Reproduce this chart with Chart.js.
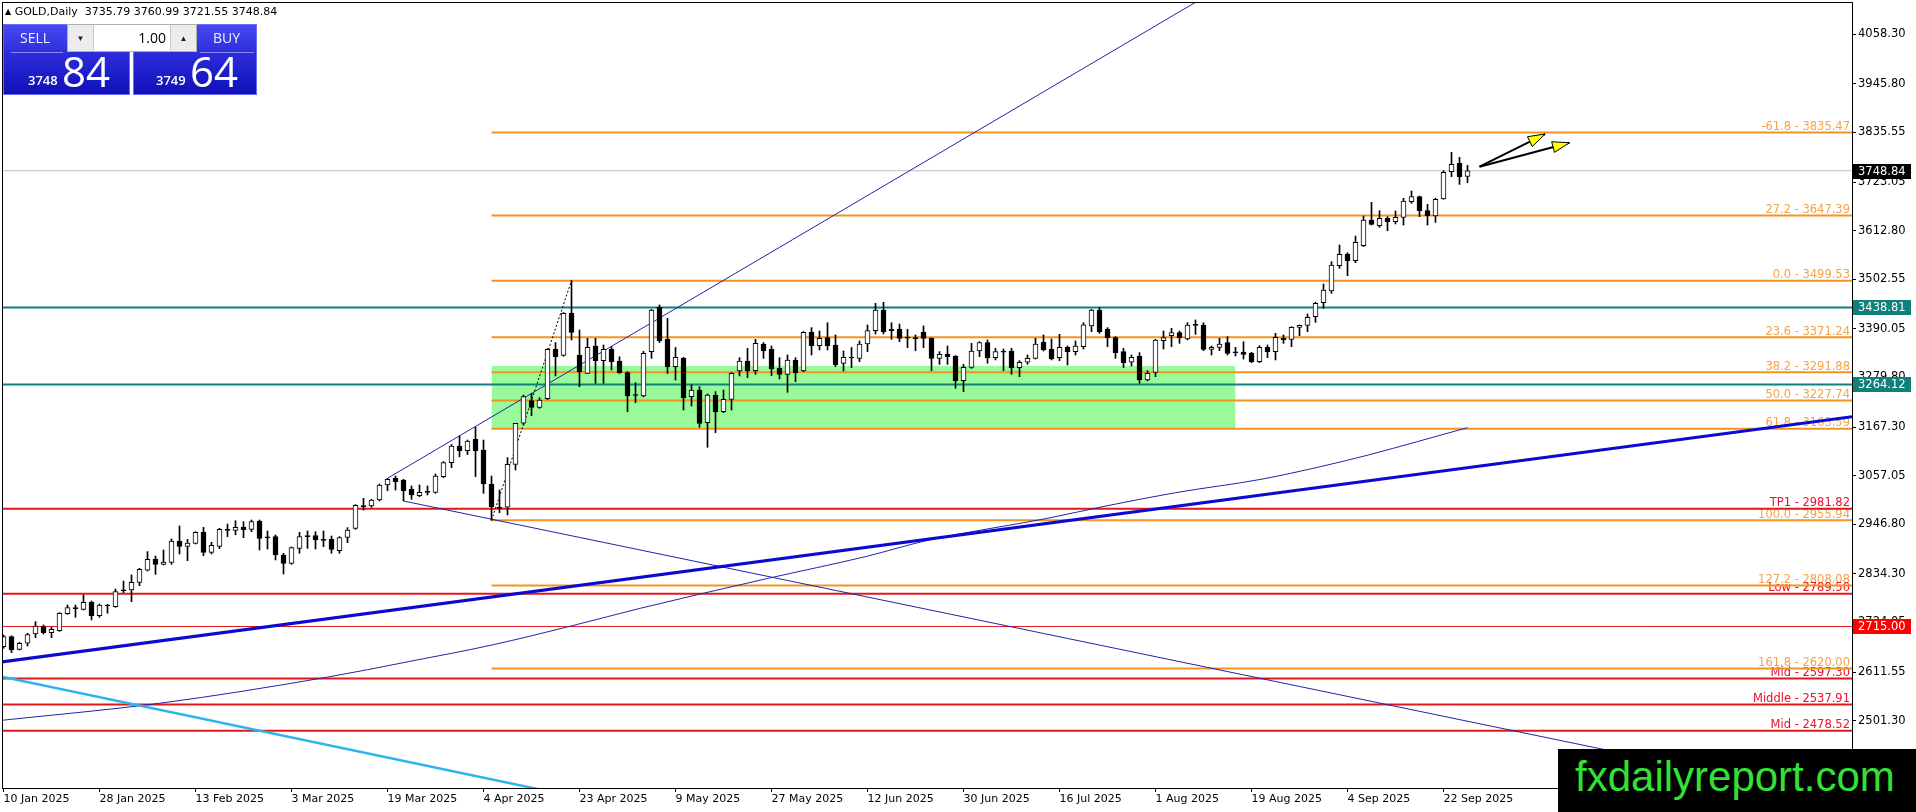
<!DOCTYPE html>
<html>
<head>
<meta charset="utf-8">
<title>GOLD,Daily</title>
<script src="https://cdn.jsdelivr.net/npm/chart.js@4.4.1/dist/chart.umd.min.js"></script>
<style>
  body { margin: 0; background: #fff; overflow: hidden; }
  #wrap { position: relative; width: 1916px; height: 812px; }
  #chart { position: absolute; left: 0; top: 0; }
  #title { position: absolute; left: 5px; top: 5px; font: 11px "DejaVu Sans", sans-serif; color: #000; white-space: pre; }
  #title .tri { font-size: 8px; vertical-align: 1px; }
  .blk { position: absolute; top: 24px; height: 71px; background: linear-gradient(to bottom, #4848f2 0%, #2a2ad8 45%, #1010b8 100%); border: 1px solid #6a6aff; box-sizing: border-box; color: #fff; font-family: "Open Sans", sans-serif; }
  .blk .lbl { position: absolute; top: 4px; font-size: 14px; line-height: 18px; color: #f0f0ff; }
  .blk .ul { position: absolute; top: 27px; height: 1px; background: #8a8aff; }
  .blk .sm { position: absolute; top: 47px; font-size: 13px; font-weight: 600; line-height: 16px; }
  .blk .lg { position: absolute; top: 24px; font-size: 42px; line-height: 44px; }
  #lot { position: absolute; left: 67px; top: 24px; width: 130px; height: 28px; background: #fff; border: 1px solid #b0b0b0; box-sizing: border-box; font-family: "Open Sans", sans-serif; }
  #lot .btn { position: absolute; top: 0; width: 25px; height: 26px; background: #ececec; color: #222; font-size: 8px; line-height: 26px; text-align: center; }
  #lot .val { position: absolute; left: 26px; width: 72px; top: 0; height: 26px; line-height: 26px; font-size: 14px; text-align: right; color: #000; }
  #brand { position: absolute; left: 1558px; top: 749px; width: 358px; height: 63px; background: #000; }
  #brand span { position: absolute; left: 17px; top: 4px; font: 42px "Liberation Sans", Arial, sans-serif; line-height: 48px; color: #35e035; white-space: nowrap; }
</style>
</head>
<body>
<div id="wrap">
  <canvas id="chart" width="1916" height="812"></canvas>
  <div id="title"><span class="tri">▲</span> GOLD,Daily  3735.79 3760.99 3721.55 3748.84</div>
  <div class="blk" style="left:3px; width:127px;">
    <div class="lbl" style="left:16px;">SELL</div>
    <div class="ul" style="left:7px; width:52px;"></div>
    <div class="sm" style="left:24px;">3748</div>
    <div class="lg" style="left:58px;">84</div>
  </div>
  <div class="blk" style="left:133px; width:124px;">
    <div class="lbl" style="left:79px;">BUY</div>
    <div class="ul" style="left:66px; width:54px;"></div>
    <div class="sm" style="left:22px;">3749</div>
    <div class="lg" style="left:56px;">64</div>
  </div>
  <div id="lot">
    <div class="btn" style="left:0; border-right:1px solid #c8c8c8;">▼</div>
    <div class="val">1.00</div>
    <div class="btn" style="right:0; border-left:1px solid #c8c8c8;">▲</div>
  </div>
  <div id="brand"><span>fxdailyreport.com</span></div>
</div>
<script>
// daily GOLD candles, bar 0 = 10 Jan 2025 ... bar 183 = 25 Sep 2025
const opens = [
  2669.3, 2692.0, 2663.0, 2677.0, 2698.0, 2714.6, 2701.0, 2705.6, 2744.0, 2757.7,
  2754.0, 2769.8, 2739.6, 2763.8, 2760.0, 2796.0, 2798.0, 2815.0, 2843.0, 2867.4,
  2856.0, 2860.6, 2909.0, 2896.9, 2903.7, 2928.6, 2883.2, 2896.9, 2935.4, 2933.0,
  2940.7, 2935.4, 2954.3, 2917.0, 2918.8, 2877.2, 2858.3, 2892.3, 2918.8, 2921.0,
  2911.2, 2912.7, 2887.0, 2917.3, 2937.7, 2988.0, 2988.4, 3002.0, 3036.0, 3051.1,
  3047.3, 3026.2, 3011.8, 3019.4, 3019.4, 3054.9, 3086.7, 3124.5, 3113.9, 3139.6,
  3115.4, 3037.5, 2985.0, 2985.4, 3082.9, 3176.0, 3227.3, 3212.2, 3231.8, 3343.7,
  3330.1, 3425.4, 3330.9, 3289.3, 3351.3, 3318.0, 3344.5, 3317.3, 3290.8, 3240.0,
  3237.9, 3338.5, 3439.0, 3366.4, 3304.4, 3323.3, 3236.4, 3251.5, 3177.4, 3240.2,
  3202.4, 3230.3, 3294.6, 3317.3, 3295.4, 3355.8, 3343.7, 3300.6, 3287.0, 3319.6,
  3294.6, 3382.3, 3352.0, 3370.2, 3353.6, 3312.0, 3325.0, 3323.3, 3355.8, 3386.1,
  3433.0, 3389.0, 3389.1, 3370.0, 3368.0, 3382.3, 3368.7, 3323.3, 3332.4, 3328.6,
  3272.7, 3302.9, 3340.0, 3358.9, 3324.8, 3338.0, 3339.9, 3302.2, 3314.3, 3323.3,
  3359.6, 3343.7, 3324.8, 3348.3, 3338.5, 3349.8, 3396.7, 3433.0, 3389.1, 3370.2,
  3338.5, 3314.3, 3328.6, 3274.2, 3291.6, 3363.4, 3374.7, 3381.5, 3367.2, 3399.0,
  3398.9, 3343.7, 3348.3, 3358.9, 3337.0, 3337.6, 3334.6, 3315.7, 3348.2, 3338.4,
  3368.6, 3366.4, 3393.6, 3398.1, 3417.8, 3449.5, 3476.0, 3533.5, 3559.2, 3544.8,
  3578.8, 3637.0, 3624.2, 3640.8, 3633.3, 3643.1, 3678.6, 3690.0, 3658.2, 3646.1,
  3684.7, 3746.7, 3765.6, 3735.79
];
const highs = [
  2695.7, 2694.0, 2679.0, 2699.5, 2726.0, 2718.4, 2713.0, 2746.4, 2763.8, 2763.8,
  2786.5, 2772.8, 2766.0, 2765.3, 2800.0, 2818.0, 2832.0, 2847.0, 2884.8, 2875.0,
  2888.5, 2913.5, 2943.0, 2912.7, 2930.1, 2940.0, 2906.0, 2937.7, 2947.5, 2955.0,
  2952.8, 2956.6, 2956.6, 2931.7, 2922.6, 2881.0, 2895.4, 2928.6, 2931.7, 2930.0,
  2931.7, 2920.3, 2918.8, 2939.2, 2991.4, 3005.7, 3003.5, 3038.3, 3051.1, 3056.4,
  3048.8, 3033.7, 3036.0, 3033.7, 3061.0, 3089.0, 3128.0, 3147.0, 3138.0, 3167.0,
  3138.0, 3056.4, 3024.7, 3098.0, 3176.0, 3240.0, 3244.0, 3234.0, 3345.0, 3358.9,
  3427.0, 3499.5, 3387.6, 3368.7, 3368.7, 3353.6, 3349.8, 3327.0, 3293.0, 3268.0,
  3339.0, 3434.5, 3444.3, 3414.0, 3348.0, 3325.6, 3262.9, 3259.0, 3242.4, 3247.7,
  3251.5, 3291.0, 3324.8, 3346.0, 3366.4, 3358.9, 3351.3, 3324.8, 3330.9, 3324.8,
  3384.0, 3392.9, 3385.3, 3404.2, 3376.3, 3340.0, 3348.0, 3362.6, 3398.9, 3448.1,
  3450.4, 3404.2, 3401.2, 3389.0, 3376.3, 3396.7, 3369.5, 3338.5, 3351.3, 3329.5,
  3309.7, 3357.4, 3361.0, 3365.0, 3346.0, 3344.5, 3346.0, 3318.0, 3330.9, 3368.7,
  3376.3, 3367.2, 3377.8, 3351.3, 3362.6, 3404.2, 3434.5, 3438.3, 3392.9, 3372.5,
  3346.0, 3330.9, 3336.2, 3295.4, 3366.4, 3385.3, 3391.4, 3385.3, 3404.2, 3410.3,
  3404.2, 3351.3, 3368.7, 3372.4, 3348.2, 3361.0, 3336.9, 3352.0, 3353.5, 3380.0,
  3376.2, 3395.1, 3398.9, 3423.8, 3450.3, 3491.9, 3542.5, 3580.3, 3562.9, 3600.7,
  3646.1, 3677.1, 3658.2, 3644.6, 3657.5, 3686.2, 3702.8, 3691.5, 3672.6, 3686.2,
  3749.0, 3790.5, 3779.2, 3760.99
];
const lows = [
  2665.5, 2655.7, 2661.7, 2670.8, 2689.7, 2698.0, 2689.7, 2704.0, 2742.6, 2735.8,
  2752.4, 2729.8, 2735.8, 2744.9, 2758.5, 2791.8, 2771.4, 2807.6, 2840.9, 2833.3,
  2854.5, 2856.0, 2879.5, 2864.3, 2902.1, 2875.7, 2879.5, 2891.6, 2918.8, 2923.0,
  2916.5, 2930.0, 2888.6, 2890.8, 2865.9, 2834.1, 2856.0, 2881.0, 2892.3, 2890.8,
  2896.1, 2881.0, 2881.0, 2905.2, 2935.4, 2979.0, 2985.3, 2999.7, 3023.0, 3024.6,
  3000.0, 3003.5, 3009.5, 3013.3, 3017.1, 3052.6, 3075.3, 3100.0, 3105.0, 3054.9,
  3017.0, 2955.9, 2973.3, 2968.0, 3070.0, 3172.0, 3193.0, 3210.0, 3230.0, 3283.3,
  3328.0, 3364.9, 3259.0, 3289.0, 3266.6, 3266.6, 3296.9, 3289.0, 3202.4, 3222.8,
  3236.0, 3323.3, 3358.9, 3289.0, 3274.0, 3206.2, 3215.2, 3166.8, 3121.5, 3154.7,
  3200.0, 3206.0, 3283.3, 3279.5, 3287.0, 3323.3, 3284.0, 3276.5, 3246.2, 3270.4,
  3293.0, 3330.9, 3342.2, 3342.2, 3304.4, 3294.6, 3302.0, 3315.8, 3338.5, 3378.5,
  3378.5, 3366.4, 3361.1, 3347.5, 3340.7, 3347.5, 3295.4, 3309.7, 3309.7, 3255.3,
  3247.7, 3300.6, 3327.0, 3312.0, 3319.6, 3295.4, 3287.0, 3281.7, 3309.7, 3321.8,
  3340.0, 3319.6, 3318.0, 3308.2, 3330.9, 3344.5, 3383.8, 3380.0, 3349.8, 3323.3,
  3302.2, 3305.9, 3266.6, 3271.9, 3281.7, 3344.5, 3349.8, 3357.4, 3365.0, 3377.8,
  3340.7, 3330.9, 3340.7, 3330.8, 3328.5, 3321.7, 3313.4, 3313.4, 3324.8, 3319.5,
  3357.3, 3349.7, 3374.7, 3383.8, 3404.9, 3436.7, 3470.7, 3527.4, 3510.8, 3540.3,
  3576.6, 3625.7, 3620.4, 3612.8, 3628.0, 3625.7, 3674.8, 3644.6, 3625.7, 3631.7,
  3684.0, 3735.3, 3717.9, 3721.55
];
const closes = [
  2692.0, 2661.7, 2677.0, 2696.5, 2716.1, 2701.0, 2708.6, 2744.9, 2757.7, 2755.5,
  2769.8, 2739.6, 2763.8, 2761.5, 2794.0, 2798.0, 2815.0, 2844.7, 2867.4, 2856.0,
  2861.3, 2909.0, 2896.9, 2904.4, 2928.6, 2883.2, 2899.1, 2935.4, 2933.1, 2940.0,
  2934.7, 2952.8, 2915.0, 2916.0, 2877.2, 2858.3, 2893.8, 2918.8, 2921.0, 2911.2,
  2910.5, 2890.0, 2916.5, 2933.9, 2989.9, 2987.0, 3002.0, 3036.0, 3048.8, 3043.6,
  3023.0, 3013.3, 3019.4, 3021.0, 3056.4, 3086.7, 3124.5, 3113.9, 3135.8, 3113.9,
  3038.3, 2986.9, 2983.0, 3082.9, 3175.9, 3236.4, 3212.2, 3228.8, 3343.7, 3327.1,
  3425.4, 3382.3, 3293.1, 3348.3, 3318.0, 3343.7, 3315.8, 3290.8, 3237.9, 3239.0,
  3334.7, 3433.0, 3363.4, 3304.4, 3325.6, 3234.0, 3251.5, 3175.9, 3240.2, 3202.4,
  3230.3, 3289.3, 3317.3, 3294.6, 3357.4, 3340.7, 3299.1, 3287.0, 3319.6, 3290.8,
  3382.3, 3352.0, 3368.7, 3352.0, 3308.2, 3325.6, 3324.0, 3355.8, 3386.1, 3433.0,
  3383.8, 3386.0, 3368.7, 3369.0, 3369.5, 3368.7, 3323.3, 3332.4, 3327.1, 3272.7,
  3302.9, 3340.0, 3358.9, 3324.8, 3338.5, 3337.0, 3302.2, 3314.3, 3323.3, 3355.8,
  3342.2, 3321.8, 3348.3, 3338.5, 3351.3, 3399.0, 3433.0, 3383.8, 3370.2, 3336.2,
  3313.5, 3325.6, 3274.2, 3289.3, 3364.9, 3370.2, 3381.5, 3370.2, 3398.9, 3398.0,
  3343.7, 3348.3, 3355.8, 3334.7, 3336.0, 3332.3, 3315.7, 3348.2, 3338.4, 3370.9,
  3364.9, 3393.6, 3398.1, 3416.3, 3448.0, 3478.3, 3535.0, 3559.2, 3544.8, 3586.4,
  3637.0, 3627.2, 3640.8, 3633.3, 3643.1, 3680.1, 3690.0, 3658.2, 3646.1, 3683.9,
  3745.2, 3763.3, 3735.3, 3748.84
];

// axis ticks
const dateTicks = [0, 12, 24, 36, 48, 60, 72, 84, 96, 108, 120, 132, 144, 156, 168, 180];
const dateLabels = ['10 Jan 2025', '28 Jan 2025', '13 Feb 2025', '3 Mar 2025', '19 Mar 2025', '4 Apr 2025',
  '23 Apr 2025', '9 May 2025', '27 May 2025', '12 Jun 2025', '30 Jun 2025', '16 Jul 2025',
  '1 Aug 2025', '19 Aug 2025', '4 Sep 2025', '22 Sep 2025'];
const priceTicks = [4058.30, 3945.80, 3835.55, 3723.05, 3612.80, 3502.55, 3390.05, 3279.80,
  3167.30, 3057.05, 2946.80, 2834.30, 2724.05, 2611.55, 2501.30];

// levels drawn on the chart
const fibLevels = [3835.47, 3647.39, 3499.53, 3371.24, 3291.88, 3227.74, 3163.59, 2955.94, 2808.08, 2620.00];
const fibNames = ['-61.8', '27.2', '0.0', '23.6', '38.2', '50.0', '61.8', '100.0', '127.2', '161.8'];
const fibStart = 61;
const redLevels = [2981.82, 2789.50, 2597.30, 2537.91, 2478.52];
const redNames = ['TP1', 'Low', 'Mid', 'Middle', 'Mid'];
const tealLevels = [3438.81, 3264.12];
const markLevel = 2715.00;
const bidPrice = 3748.84;
const zoneX = [61, 154];
const zoneY = [3163.59, 3306.0];

// trend lines (bar index, price)
const thickLineX = [-0.2, 231.2];
const thickLineY = [2634.7, 3191.2];
const upLineX = [48, 160];
const upLineY = [3051.2, 4248.5];
const downLineX = [50, 232];
const downLineY = [2999.7, 2316.0];
const cyanLineX = [-0.2, 80];
const cyanLineY = [2601.2, 2296.0];
const fibDiagX = [61, 71];
const fibDiagY = [2955.94, 3499.53];
const maX = [-0.2, 19.5, 40.4, 50.6, 60.9, 71.1, 79.6, 95.6, 107.7, 115.7, 130.5, 137.8, 146.5, 157.2, 164.6, 170.6, 176.7, 183];
const maY = [2502.2, 2540.8, 2599.8, 2635.2, 2672.4, 2716.8, 2756.3, 2824.3, 2873.3, 2911.2, 2960.4, 2988.3, 3018.5, 3048.9, 3077.5, 3104.0, 3134.2, 3166.0];
const arrowTail = [184.5, 3758.0];
const arrowTips = [[192.7, 3832.1], [195.75, 3812.4]];

const X_MIN = -0.1875, X_MAX = 231.0625;
const Y_MIN = 2348.65, Y_MAX = 4131.57;

const FIB = '#f39320', FIB_TEXT = '#f2a447';
const RED = '#e01a1a', RED_TEXT = '#e8102e';
const TEAL = '#10807b';

function seg(xs, ys, color, width, order, extra) {
  return Object.assign({
    type: 'line',
    data: xs.map((x, i) => ({ x: x, y: ys[i] })),
    borderColor: color,
    borderWidth: width,
    pointRadius: 0,
    fill: false,
    clip: 0,
    order: order
  }, extra || {});
}

const datasets = [];

// green zone
datasets.push(seg(zoneX, [zoneY[1], zoneY[1]], 'rgba(0,0,0,0)', 0, 100,
  { fill: { value: zoneY[0] }, backgroundColor: '#98fa98' }));

// horizontal levels
datasets.push(seg([X_MIN - 1, X_MAX + 1], [bidPrice, bidPrice], '#c0c0c0', 1, 60));
datasets.push(seg([X_MIN - 1, X_MAX + 1], [markLevel, markLevel], RED, 1, 50));
tealLevels.forEach(v => datasets.push(seg([X_MIN - 1, X_MAX + 1], [v, v], TEAL, 2, 50)));
redLevels.forEach(v => datasets.push(seg([X_MIN - 1, X_MAX + 1], [v, v], RED, 2, 50)));
fibLevels.forEach(v => datasets.push(seg([fibStart, X_MAX + 1], [v, v], FIB, 2, 50)));

// trend lines and average
datasets.push(seg(cyanLineX, cyanLineY, '#2db4ea', 2.5, 40));
datasets.push(seg(thickLineX, thickLineY, '#0a0ad0', 3, 40));
datasets.push(seg(upLineX, upLineY, '#2222a8', 1, 40));
datasets.push(seg(downLineX, downLineY, '#2222a8', 1, 40));
datasets.push(seg(maX, maY, '#2222a8', 1, 40, { cubicInterpolationMode: 'monotone' }));
datasets.push(seg(fibDiagX, fibDiagY, '#000', 1, 40, { borderDash: [2, 2] }));

// candles
datasets.push({
  type: 'bar',
  data: lows.map((l, i) => ({ x: i, y: [l, highs[i]] })),
  backgroundColor: '#000',
  borderWidth: 0,
  barThickness: 1,
  grouped: false,
  order: 2
});
datasets.push({
  type: 'bar',
  data: opens.map((o, i) => ({ x: i, y: [o, closes[i]] })),
  backgroundColor: opens.map((o, i) => (closes[i] - o > 2.5 ? '#fff' : '#000')),
  borderColor: '#000',
  borderWidth: 1,
  borderSkipped: false,
  minBarLength: 1,
  barThickness: 5,
  grouped: false,
  order: 1
});

// arrows
arrowTips.forEach(t => datasets.push(seg([arrowTail[0], t[0]], [arrowTail[1], t[1]], '#000', 2, 0)));

const overlay = {
  id: 'overlay',
  beforeDatasetsDraw(chart) {
    const { ctx, chartArea: a } = chart;
    const y = chart.scales.y;
    ctx.save();
    ctx.font = '11.5px "DejaVu Sans"';
    ctx.textAlign = 'right';
    ctx.textBaseline = 'alphabetic';
    ctx.fillStyle = FIB_TEXT;
    fibLevels.forEach((v, k) => ctx.fillText(fibNames[k] + ' - ' + v.toFixed(2), a.right - 2, y.getPixelForValue(v) - 2.5));
    ctx.fillStyle = RED_TEXT;
    redLevels.forEach((v, k) => ctx.fillText(redNames[k] + ' - ' + v.toFixed(2), a.right - 2, y.getPixelForValue(v) - 2.5));
    ctx.restore();
  },
  afterDatasetsDraw(chart) {
    const { ctx } = chart;
    const x = chart.scales.x, y = chart.scales.y;
    const tx = x.getPixelForValue(arrowTail[0]), ty = y.getPixelForValue(arrowTail[1]);
    ctx.save();
    arrowTips.forEach(t => {
      const px = x.getPixelForValue(t[0]), py = y.getPixelForValue(t[1]);
      const ang = Math.atan2(py - ty, px - tx);
      const len = 17, half = 5.5;
      const bx = px - len * Math.cos(ang), by = py - len * Math.sin(ang);
      ctx.beginPath();
      ctx.moveTo(px, py);
      ctx.lineTo(bx + half * Math.sin(ang), by - half * Math.cos(ang));
      ctx.lineTo(bx - half * Math.sin(ang), by + half * Math.cos(ang));
      ctx.closePath();
      ctx.fillStyle = '#ffff00';
      ctx.fill();
      ctx.lineWidth = 1;
      ctx.strokeStyle = '#000';
      ctx.stroke();
    });
    ctx.restore();
  },
  afterDraw(chart) {
    const { ctx, chartArea: a } = chart;
    const y = chart.scales.y;
    ctx.save();
    ctx.strokeStyle = '#000';
    ctx.lineWidth = 1;
    ctx.strokeRect(a.left + 0.5, a.top + 0.5, a.right - a.left, a.bottom - a.top);
    const boxes = [[bidPrice, '#000'], [tealLevels[0], TEAL], [tealLevels[1], TEAL], [markLevel, '#ff0000']];
    ctx.font = '11.5px "DejaVu Sans"';
    ctx.textAlign = 'left';
    ctx.textBaseline = 'middle';
    boxes.forEach(b => {
      const py = Math.round(y.getPixelForValue(b[0]));
      ctx.fillStyle = b[1];
      ctx.fillRect(a.right + 1, py - 7, 58, 15);
      ctx.fillStyle = '#fff';
      ctx.fillText(b[0].toFixed(2), a.right + 6, py + 1);
    });
    ctx.restore();
  }
};

Chart.defaults.font.family = '"DejaVu Sans"';
Chart.defaults.font.size = 11.5;
Chart.defaults.color = '#000';

new Chart(document.getElementById('chart'), {
  type: 'bar',
  data: { datasets: datasets },
  plugins: [overlay],
  options: {
    responsive: false,
    animation: false,
    devicePixelRatio: 1,
    layout: { padding: { left: 2, top: 2, right: 0, bottom: 0 }, autoPadding: false },
    plugins: { legend: { display: false }, tooltip: { enabled: false } },
    scales: {
      x: {
        type: 'linear',
        min: X_MIN,
        max: X_MAX,
        offset: false,
        grid: { offset: false, drawOnChartArea: false, drawTicks: true, tickLength: 4, color: '#000' },
        border: { display: false },
        ticks: {
          autoSkip: false,
          maxRotation: 0,
          align: 'start',
          padding: 1,
          font: { size: 11 },
          callback: v => dateLabels[dateTicks.indexOf(v)]
        },
        afterBuildTicks: s => { s.ticks = dateTicks.map(v => ({ value: v })); },
        afterFit: s => { s.height = 24; s.paddingLeft = 0; s.paddingRight = 0; }
      },
      y: {
        type: 'linear',
        position: 'right',
        min: Y_MIN,
        max: Y_MAX,
        beginAtZero: false,
        grid: { drawOnChartArea: false, drawTicks: true, tickLength: 4, color: '#000' },
        border: { display: false },
        ticks: { autoSkip: false, padding: 2, callback: v => v.toFixed(2) },
        afterBuildTicks: s => { s.ticks = priceTicks.map(v => ({ value: v })); },
        afterFit: s => { s.width = 64; s.paddingTop = 0; s.paddingBottom = 0; }
      }
    }
  }
});
</script>
</body>
</html>
